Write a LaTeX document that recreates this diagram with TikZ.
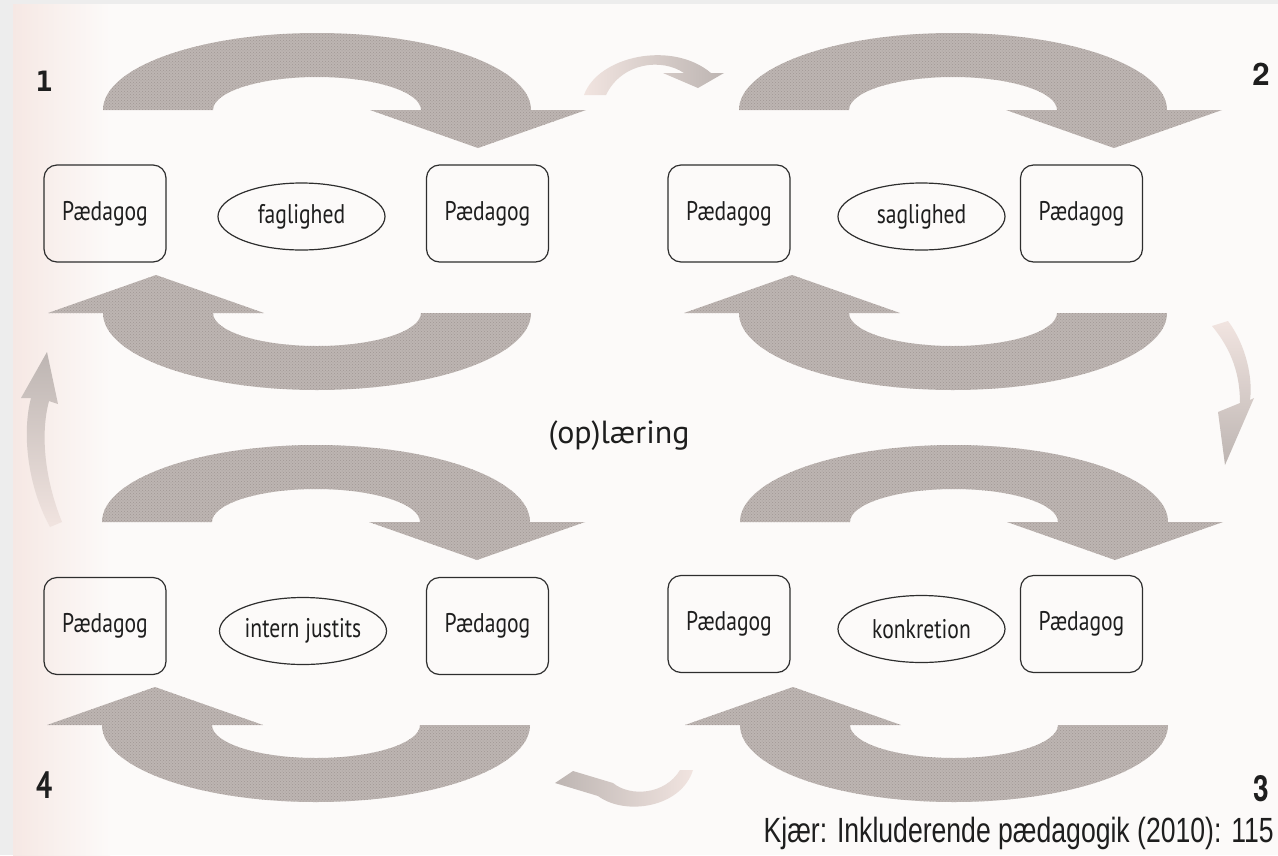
\documentclass[tikz,border=0pt]{standalone}
\usepackage{fontspec}
\setmainfont{PT Sans}
\newfontfamily\labelfont[FakeStretch=0.8]{PT Sans}
\newfontfamily\capfont[FakeStretch=0.76]{Liberation Sans}
\newfontfamily\slabfont{DejaVu Sans Mono}
\newfontfamily\herosfont{TeX Gyre Heros}
\newfontfamily\herosnarrow[FakeStretch=0.78]{TeX Gyre Heros}
\newfontfamily\ptnarrow[FakeStretch=0.75]{PT Sans}
\usetikzlibrary{shapes.geometric,patterns}

\definecolor{paper}{HTML}{FCFAF9}
\definecolor{margin}{HTML}{EDEDED}
\definecolor{blush}{HTML}{F6E8E4}
\definecolor{arrowfill}{HTML}{BDB5B2}
\definecolor{arrowdots}{HTML}{A09794}
\definecolor{fadefill}{HTML}{F1E4E0}
\definecolor{boxline}{HTML}{2E2E2E}
\definecolor{ink}{HTML}{1E1E1E}

% outline of one big loop arrow, relative to the centre of its group
\newcommand\loopshape{(-214,-101.5) arc[start angle=180,end angle=360,x radius=214,y radius=77]
  -- (269,-101.5) -- (161,-63.5) -- (53,-101.5) -- (104,-101.5)
  arc[start angle=0,end angle=-180,x radius=104,y radius=33] -- cycle}

% #1 = centre coordinate, #2 = rotation (0 = over the top, 180 = underneath)
\newcommand\bigloop[2]{%
  \begin{scope}[shift={(#1)},rotate=#2]
    \fill[arrowfill] \loopshape;
    \fill[pattern=crosshatch dots,pattern color=arrowdots] \loopshape;
  \end{scope}}

\begin{document}
\begin{tikzpicture}[x=1pt,y=-1pt,
  pbox/.style={draw=boxline,line width=1.2pt,rounded corners=13pt,
    minimum width=122pt,minimum height=97pt,inner sep=0pt,
    font=\labelfont\fontsize{27}{30}\selectfont,text=ink},
  pell/.style={ellipse,draw=boxline,line width=1.2pt,
    minimum width=167pt,minimum height=67pt,inner sep=0pt,
    font=\labelfont\fontsize{27}{30}\selectfont,text=ink},
  numlabel/.style={text=ink,inner sep=0pt},
  caption/.style={text=ink,inner sep=0pt,font=\capfont\fontsize{35}{38}\selectfont}]

% page
\fill[margin] (0,0) rectangle (1278,855);
\fill[paper] (13,4) rectangle (1278,855);
\shade[left color=blush,right color=paper] (13,4) rectangle (110,855);
\useasboundingbox (0,0) rectangle (1278,855);

% group centres
\coordinate (c1) at (317,211.5);
\coordinate (c2) at (953,211.5);
\coordinate (c3) at (954,623.5);
\coordinate (c4) at (316,623.5);

% big loop arrows
\bigloop{c1}{0}   \bigloop{c1}{180}
\bigloop{c2}{0}   \bigloop{c2}{180}
\bigloop{c3}{0}   \bigloop{c3}{180}
\bigloop{c4}{0}   \bigloop{c4}{180}

% small arrows linking the groups (1 -> 2 -> 3 -> 4 -> 1)
\shade[left color=fadefill,right color=arrowfill]
  (584,95) .. controls (598,56) and (672,40) .. (711,73) -- (724,73) -- (698,88)
  -- (663,73) -- (684,73) .. controls (662,58) and (622,62) .. (606,95) -- cycle;
\shade[top color=fadefill,bottom color=arrowfill]
  (1212,326) -- (1228,321) .. controls (1246,345) and (1253,378) .. (1250,400)
  -- (1254,398) -- (1225,465) -- (1218,412) -- (1240,403)
  .. controls (1240,375) and (1232,350) .. (1212,326) -- cycle;
\shade[left color=arrowfill,right color=fadefill]
  (555,783) -- (573,771) -- (613,783) .. controls (630,797) and (665,795) .. (680,770)
  -- (693,770) .. controls (681,808) and (625,816) .. (598,796) -- cycle;
\shade[top color=arrowfill,bottom color=fadefill]
  (47,352) -- (58,404) -- (49,401) .. controls (40,435) and (45,480) .. (62,522)
  -- (50,527) .. controls (27,485) and (22,432) .. (31,398) -- (21,398) -- cycle;

% group 1
\node[pbox] (a1) at (105,213.5) {Pædagog};
\node[pell] (e1) at (301.5,216.5) {faglighed};
\node[pbox] (b1) at (487.5,213.5) {Pædagog};
% group 2
\node[pbox] (a2) at (729,213.5) {Pædagog};
\node[pell] (e2) at (921.5,216.5) {saglighed};
\node[pbox] (b2) at (1081.5,213.5) {Pædagog};
% group 3
\node[pbox] (a3) at (729,624) {Pædagog};
\node[pell] (e3) at (921.5,629) {konkretion};
\node[pbox] (b3) at (1081.5,624) {Pædagog};
% group 4
\node[pbox] (a4) at (105,626) {Pædagog};
\node[pell] (e4) at (303,631) {intern justits};
\node[pbox] (b4) at (487.5,626) {Pædagog};

% centre label
\node[text=ink,font=\fontsize{32}{36}\selectfont] (mid) at (619,436) {(op)læring};

% group numbers
\node[numlabel,font=\slabfont\bfseries\fontsize{28}{30}\selectfont] (n1) at (44,81) {1};
\node[numlabel,font=\herosfont\bfseries\fontsize{31}{34}\selectfont] (n2) at (1261,74) {2};
\node[numlabel,font=\herosnarrow\bfseries\fontsize{36}{38}\selectfont] (n3) at (1261,789) {3};
\node[numlabel,font=\ptnarrow\bfseries\fontsize{38}{40}\selectfont] (n4) at (45,785) {4};

% source
\node[caption,anchor=base east] (src) at (1274,842) {Kjær: Inkluderende pædagogik (2010): 115};
\end{tikzpicture}
\end{document}
